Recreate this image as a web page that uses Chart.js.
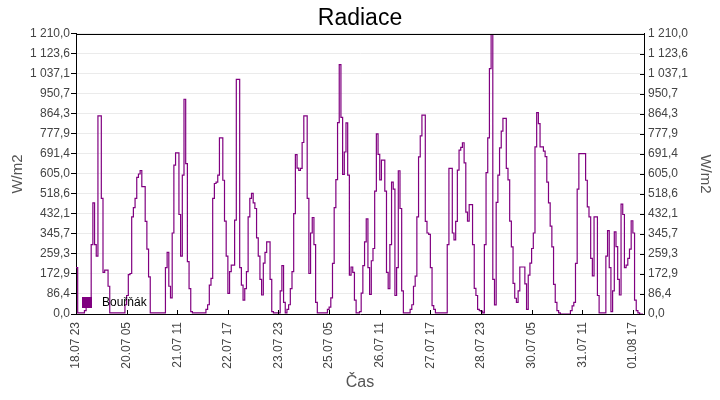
<!DOCTYPE html>
<html>
<head>
<meta charset="utf-8">
<script src="https://cdn.jsdelivr.net/npm/chart.js@4.4.1/dist/chart.umd.min.js"></script>
<style>
  html, body { margin: 0; padding: 0; background: #fff; }
  #wrap { width: 720px; height: 400px; }
</style>
</head>
<body>
<div id="wrap"><canvas id="radChart" width="720" height="400"></canvas></div>
<script>
// tick labels of the time axis, one per segment below
const xTickLabels = ['18.07 23', '20.07 05', '21.07 11', '22.07 17', '23.07 23', '25.07 05',
  '26.07 11', '27.07 17', '28.07 23', '30.07 05', '31.07 11', '01.08 17'];

const yMax = 1210;
const yTickLabels = ['0,0', '86,4', '172,9', '259,3', '345,7', '432,1', '518,6', '605,0',
  '691,4', '777,9', '864,3', '950,7', '1 037,1', '1 123,6', '1 210,0'];

// radiation W/m2, each array starts at the matching x tick label
const r18_23 = [200, 5, 5, 5, 5, 15, 40, 40, 60, 300, 480, 300, 250, 856, 856, 500, 180, 190, 190, 120, 5, 5, 5, 5, 5, 5, 5, 5, 5, 40];
const r20_05 = [80, 170, 175, 420, 460, 500, 590, 605, 620, 550, 550, 400, 280, 160, 5, 5, 5, 5, 5, 5, 5, 5, 5, 200, 266, 120, 70, 350, 643, 696];
const r21_11 = [696, 430, 250, 600, 928, 650, 226, 110, 10, 5, 5, 5, 5, 5, 5, 5, 5, 20, 40, 125, 154, 500, 564, 570, 600, 761, 761, 578, 401, 250];
const r22_17 = [89, 183, 211, 211, 406, 1014, 1014, 200, 125, 60, 110, 183, 420, 500, 521, 480, 456, 329, 250, 150, 82, 220, 266, 312, 312, 150, 10, 5, 5, 5];
const r23_23 = [5, 100, 209, 50, 5, 20, 40, 110, 183, 434, 689, 630, 620, 629, 741, 856, 856, 500, 175, 350, 417, 300, 50, 5, 5, 5, 5, 5, 5, 20];
const r25_05 = [30, 70, 219, 460, 581, 827, 1078, 850, 603, 700, 826, 600, 168, 203, 180, 60, 5, 5, 10, 90, 209, 312, 411, 200, 85, 230, 283, 531, 778, 690];
const r26_11 = [580, 665, 665, 531, 180, 110, 300, 570, 540, 80, 200, 619, 456, 100, 5, 5, 5, 5, 20, 40, 120, 164, 420, 679, 770, 859, 859, 400, 350, 344];
const r27_17 = [200, 36, 20, 5, 5, 5, 5, 5, 5, 5, 300, 629, 629, 350, 320, 400, 622, 708, 720, 740, 653, 440, 401, 473, 473, 300, 111, 80, 20, 15];
const r28_23 = [12, 5, 300, 611, 761, 1060, 1210, 150, 39, 482, 600, 718, 790, 845, 845, 629, 580, 401, 290, 132, 68, 50, 100, 203, 203, 203, 130, 20, 168, 220];
const r30_05 = [283, 350, 722, 870, 823, 722, 722, 704, 680, 570, 480, 380, 290, 128, 50, 15, 5, 0, 0, 0, 0, 0, 0, 15, 35, 50, 219, 540, 693, 693];
const r31_11 = [693, 693, 578, 463, 420, 240, 165, 420, 420, 80, 5, 5, 5, 5, 250, 360, 200, 10, 100, 355, 291, 150, 82, 475, 430, 200, 211, 240, 280, 403];
const r01_17 = [350, 60, 15, 5, 0, 0, 0];

const segments = [r18_23, r20_05, r21_11, r22_17, r23_23, r25_05, r26_11, r27_17, r28_23, r30_05, r31_11, r01_17];
const values = [].concat(...segments);
const labels = values.map((v, i) => i);

// x tick positions = start index of each segment
const tickPos = [];
let acc = 0;
segments.forEach(s => { tickPos.push(acc); acc += s.length; });

const yTickValues = yTickLabels.map((t, k) => yMax * k / (yTickLabels.length - 1));

Chart.defaults.font.family = "'Liberation Sans', Arial, sans-serif";

const frame = {
  id: 'frame',
  afterDraw(chart) {
    const ctx = chart.ctx;
    const a = chart.chartArea;
    const x = chart.scales.x;
    const y = chart.scales.y;
    ctx.save();
    ctx.strokeStyle = '#000';
    ctx.lineWidth = 1;
    ctx.beginPath();
    ctx.moveTo(a.left, Math.round(a.top) + 0.5);
    ctx.lineTo(a.right, Math.round(a.top) + 0.5);
    // inner ticks on right axis
    yTickValues.forEach(v => {
      const py = Math.round(y.getPixelForValue(v)) + 0.5;
      ctx.moveTo(a.right - 4, py);
      ctx.lineTo(a.right, py);
    });
    // inner ticks on time axis
    tickPos.forEach(v => {
      const px = Math.round(x.getPixelForValue(v)) + 0.5;
      ctx.moveTo(px, a.bottom);
      ctx.lineTo(px, a.bottom - 4);
    });
    ctx.stroke();

    // legend inside bottom-left
    const ds = chart.data.datasets[0];
    ctx.fillStyle = ds.borderColor;
    ctx.fillRect(a.left + 6, a.bottom - 17, 10, 11);
    ctx.fillStyle = '#000';
    ctx.font = "12px 'Liberation Sans', Arial, sans-serif";
    ctx.textBaseline = 'middle';
    ctx.fillText(ds.label, a.left + 26, a.bottom - 11);
    ctx.restore();
  }
};

new Chart(document.getElementById('radChart'), {
  type: 'line',
  data: {
    labels: labels,
    datasets: [{
      label: 'Bouřňák',
      data: values,
      borderColor: '#800080',
      borderWidth: 1.2,
      pointRadius: 0,
      stepped: true,
      fill: false,
      yAxisID: 'y'
    }]
  },
  options: {
    responsive: false,
    animation: false,
    layout: { padding: 0 },
    plugins: {
      legend: { display: false },
      tooltip: { enabled: false },
      title: {
        display: true,
        text: 'Radiace',
        color: '#000',
        font: { size: 23, weight: 'normal', lineHeight: 1.13 },
        padding: { top: 6, bottom: 2 }
      }
    },
    scales: {
      x: {
        type: 'linear',
        min: 0,
        max: values.length - 0.4,
        grid: { display: false, drawTicks: false },
        border: { color: '#000', width: 1 },
        afterBuildTicks: ax => { ax.ticks = tickPos.map(v => ({ value: v })); },
        ticks: {
          autoSkip: false,
          maxRotation: 90,
          minRotation: 90,
          padding: 8,
          color: '#444',
          font: { size: 12 },
          callback: v => xTickLabels[tickPos.indexOf(v)]
        },
        title: {
          display: true,
          text: 'Čas',
          color: '#555',
          font: { size: 16 },
          padding: { top: 0, bottom: 8 }
        },
        afterFit: ax => { ax.height = 86; }
      },
      y: {
        position: 'left',
        min: 0,
        max: yMax,
        afterBuildTicks: ax => { ax.ticks = yTickValues.map(v => ({ value: v })); },
        grid: { color: '#ebebeb', tickColor: '#000', tickLength: 5 },
        border: { color: '#000', width: 1 },
        ticks: {
          padding: 1,
          color: '#444',
          font: { size: 12 },
          callback: (v, i) => yTickLabels[i]
        },
        title: {
          display: true,
          text: 'W/m2',
          color: '#555',
          font: { size: 15 },
          padding: { top: 9, bottom: 0 }
        },
        afterFit: ax => { ax.width = 76; }
      },
      y2: {
        position: 'right',
        min: 0,
        max: yMax,
        afterBuildTicks: ax => { ax.ticks = yTickValues.map(v => ({ value: v })); },
        grid: { drawOnChartArea: false, drawTicks: false },
        border: { color: '#000', width: 1 },
        ticks: {
          padding: 4,
          color: '#444',
          font: { size: 12 },
          callback: (v, i) => yTickLabels[i]
        },
        title: {
          display: true,
          text: 'W/m2',
          color: '#555',
          font: { size: 15 },
          padding: { top: 6, bottom: 0 }
        },
        afterFit: ax => { ax.width = 76; }
      }
    }
  },
  plugins: [frame]
});
</script>
</body>
</html>
